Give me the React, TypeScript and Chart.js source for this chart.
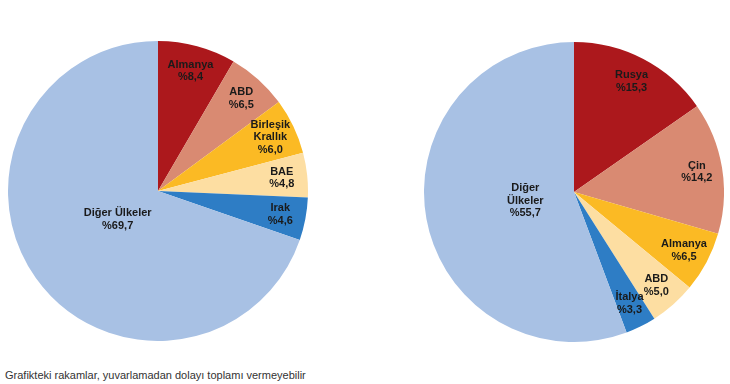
import React, { useEffect, useRef } from "react";
import { Chart, registerables } from "chart.js";

Chart.register(...registerables);

const leftCategories: string[][] = [
  ["Almanya"],
  ["ABD"],
  ["Birleşik", "Krallık"],
  ["BAE"],
  ["Irak"],
  ["Diğer Ülkeler"],
];
const leftValues = [8.4, 6.5, 6.0, 4.8, 4.6, 69.7];

const rightCategories: string[][] = [
  ["Rusya"],
  ["Çin"],
  ["Almanya"],
  ["ABD"],
  ["İtalya"],
  ["Diğer", "Ülkeler"],
];
const rightValues = [15.3, 14.2, 6.5, 5.0, 3.3, 55.7];

const sliceColors = ["#AC181C", "#D98A72", "#FBBA24", "#FDDEA2", "#2E7DC5", "#A8C1E4"];

const footnote = "Grafikteki rakamlar, yuvarlamadan dolayı toplamı vermeyebilir";

const fmt = (v: number) => "%" + v.toFixed(1).replace(".", ",");

const labelPlugin = {
  id: "sliceLabels",
  afterDatasetsDraw(chart: any) {
    const ctx = chart.ctx;
    const meta = chart.getDatasetMeta(0);
    const data = chart.data.datasets[0].data as number[];
    const labels = chart.data.labels as string[][];
    ctx.save();
    ctx.font = "bold 11px 'Liberation Sans', Arial, sans-serif";
    ctx.fillStyle = "#1a1a1a";
    ctx.textAlign = "center";
    ctx.textBaseline = "middle";
    meta.data.forEach((arc: any, i: number) => {
      const { x, y, startAngle, endAngle, outerRadius } = arc.getProps(
        ["x", "y", "startAngle", "endAngle", "outerRadius"],
        true
      );
      const mid = (startAngle + endAngle) / 2;
      const big = data[i] > 50;
      const r = outerRadius * (big ? 0.33 : 0.83);
      const cx = x + Math.cos(mid) * r;
      const cy = y + Math.sin(mid) * r;
      const lines = [...labels[i], fmt(data[i])];
      const lh = 12.5;
      const top = cy - ((lines.length - 1) * lh) / 2;
      lines.forEach((t, k) => ctx.fillText(t, cx, top + k * lh));
    });
    ctx.restore();
  },
};

function PieChart({ labels, values }: { labels: string[][]; values: number[] }) {
  const ref = useRef<HTMLCanvasElement>(null);
  useEffect(() => {
    if (!ref.current) return;
    const chart = new Chart(ref.current, {
      type: "pie",
      data: {
        labels: labels as any,
        datasets: [
          {
            data: values,
            backgroundColor: sliceColors,
            borderWidth: 0,
          },
        ],
      },
      options: {
        animation: false,
        responsive: false,
        events: [],
        layout: { padding: 0 },
        plugins: { legend: { display: false }, tooltip: { enabled: false } },
      },
      plugins: [labelPlugin],
    });
    return () => chart.destroy();
  }, []);
  return <canvas ref={ref} width={300} height={300} style={{ width: 300, height: 300, display: "block" }} />;
}

export default function App() {
  return (
    <div
      style={{
        position: "absolute",
        left: 0,
        top: 0,
        width: 730,
        height: 384,
        background: "#ffffff",
        overflow: "hidden",
      }}
    >
      <div style={{ position: "absolute", left: 8, top: 41 }}>
        <PieChart labels={leftCategories} values={leftValues} />
      </div>
      <div style={{ position: "absolute", left: 424, top: 42 }}>
        <PieChart labels={rightCategories} values={rightValues} />
      </div>
      <div
        style={{
          position: "absolute",
          left: 5,
          top: 369,
          fontFamily: "'Liberation Sans', Arial, sans-serif",
          fontSize: 11,
          color: "#333",
          whiteSpace: "nowrap",
        }}
      >
        {footnote}
      </div>
    </div>
  );
}
